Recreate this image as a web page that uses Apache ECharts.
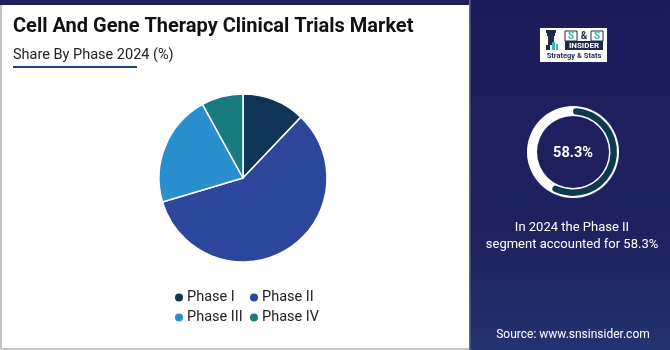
<!DOCTYPE html>
<html>
<head>
<meta charset="utf-8">
<script src="https://cdn.jsdelivr.net/npm/echarts@6/dist/echarts.min.js"></script>
<style>
  html, body { margin: 0; padding: 0; background: #ffffff; }
  #chart { width: 670px; height: 350px; }
</style>
</head>
<body>
<div id="chart"></div>
<script>
// Share of clinical trials by phase, 2024 (%)
const phases = ['Phase I', 'Phase II', 'Phase III', 'Phase IV'];
const shares = [12.1, 58.3, 21.6, 8.0];
const phaseColors = ['#0f3456', '#2b469b', '#2a8fcf', '#187b7f'];

// Highlighted segment in the side panel
const highlightYear = 2024;
const highlightIndex = 1;

const titleText = 'Cell And Gene Therapy Clinical Trials Market';
const subtitleText = 'Share By Phase 2024 (%)';
const sourceText = 'Source: www.snsinsider.com';

const chart = echarts.init(document.getElementById('chart'), null, { renderer: 'canvas' });

const hlValue = shares[highlightIndex];
const hlName = phases[highlightIndex];

const option = {
  animation: false,
  textStyle: { fontFamily: 'Roboto' },
  graphic: [
    // left card
    { type: 'rect', z: 0, shape: { x: 0, y: 0, width: 470, height: 350 }, style: { fill: '#ffffff' } },
    { type: 'rect', z: 1, shape: { x: 0, y: 5, width: 2, height: 345 }, style: { fill: '#c4c4c8' } },
    { type: 'rect', z: 1, shape: { x: 0, y: 348, width: 470, height: 2 }, style: { fill: '#c4c4c8' } },
    { type: 'rect', z: 1, shape: { x: 0, y: 0, width: 470, height: 5 }, style: { fill: '#1e1f5c' } },
    // right panel
    {
      type: 'rect', z: 0, shape: { x: 469, y: 0, width: 201, height: 350 },
      style: {
        fill: new echarts.graphic.LinearGradient(0, 0, 0, 1, [
          { offset: 0, color: '#1e1d5c' },
          { offset: 0.7, color: '#1f2260' },
          { offset: 1, color: '#243371' }
        ])
      }
    },
    { type: 'rect', z: 1, shape: { x: 469, y: 0, width: 1.5, height: 350 }, style: { fill: '#5c6a9a' } },
    // titles
    {
      type: 'text', z: 5, left: 13, top: 17,
      style: { text: titleText, fill: '#111111', font: 'bold 20px Roboto' }
    },
    {
      type: 'text', z: 5, left: 13, top: 48,
      style: { text: subtitleText, fill: '#222222', font: '14.5px Roboto' }
    },
    { type: 'rect', z: 5, shape: { x: 13, y: 66, width: 124, height: 2 }, style: { fill: '#1f3f78' } },
    // logo
    { type: 'rect', z: 5, shape: { x: 540, y: 28, width: 67, height: 34 }, style: { fill: '#ffffff' } },
    // rook icon
    { type: 'rect', z: 6, shape: { x: 546, y: 30, width: 10, height: 3 }, style: { fill: '#1d2a4a' } },
    { type: 'rect', z: 6, shape: { x: 547, y: 33, width: 8, height: 3 }, style: { fill: '#1d2a4a' } },
    { type: 'rect', z: 6, shape: { x: 548, y: 36, width: 6, height: 9 }, style: { fill: '#1d2a4a' } },
    { type: 'rect', z: 6, shape: { x: 546, y: 45, width: 4, height: 5 }, style: { fill: '#1d2a4a' } },
    { type: 'rect', z: 6, shape: { x: 552, y: 42, width: 3, height: 8 }, style: { fill: '#3fb6b0' } },
    { type: 'rect', z: 6, shape: { x: 556, y: 44, width: 2, height: 6 }, style: { fill: '#3fb6b0' } },
    // S & S boxes
    { type: 'rect', z: 6, shape: { x: 565, y: 31, width: 12, height: 10 }, style: { fill: '#ffffff', stroke: '#1d2a4a', lineWidth: 1 } },
    { type: 'rect', z: 6, shape: { x: 591, y: 31, width: 12, height: 10 }, style: { fill: '#ffffff', stroke: '#1d2a4a', lineWidth: 1 } },
    { type: 'text', z: 7, x: 571, y: 36, style: { text: 'S', fill: '#3fb6b0', font: 'bold 10px Roboto', align: 'center', verticalAlign: 'middle' } },
    { type: 'text', z: 7, x: 584, y: 36, style: { text: '&', fill: '#1d2a4a', font: 'bold 10px Roboto', align: 'center', verticalAlign: 'middle' } },
    { type: 'text', z: 7, x: 597, y: 36, style: { text: 'S', fill: '#3fb6b0', font: 'bold 10px Roboto', align: 'center', verticalAlign: 'middle' } },
    { type: 'rect', z: 6, shape: { x: 565, y: 41, width: 38, height: 9 }, style: { fill: '#1d2a4a' } },
    { type: 'text', z: 7, x: 584, y: 45.5, style: { text: 'INSIDER', fill: '#ffffff', font: 'bold 8px Roboto', align: 'center', verticalAlign: 'middle' } },
    { type: 'text', z: 7, x: 574, y: 56.5, style: { text: 'Strategy & Stats', fill: '#1d2a4a', font: 'bold 7.5px Roboto', align: 'center', verticalAlign: 'middle' } },
    // donut centre value
    {
      type: 'text', z: 10, x: 573, y: 153,
      style: { text: hlValue.toFixed(1) + '%', fill: '#ffffff', font: 'bold 14.5px Roboto', align: 'center', verticalAlign: 'middle' }
    },
    {
      type: 'text', z: 10, x: 572, y: 236,
      style: {
        text: 'In ' + highlightYear + ' the ' + hlName + '\nsegment accounted for ' + hlValue.toFixed(1) + '%',
        fill: '#ffffff', font: '13px Roboto', align: 'center', verticalAlign: 'middle', lineHeight: 17
      }
    },
    {
      type: 'text', z: 10, x: 573, y: 335,
      style: { text: sourceText, fill: '#ffffff', font: '12px Roboto', align: 'center', verticalAlign: 'middle' }
    }
  ],
  legend: [
    {
      data: [phases[0], phases[2]],
      orient: 'vertical', left: 168, top: 285, itemGap: 5,
      icon: 'circle', itemWidth: 10, itemHeight: 10,
      textStyle: { fontSize: 14.5, color: '#222222', fontFamily: 'Roboto', padding: [0, 0, 0, -2] }
    },
    {
      data: [phases[1], phases[3]],
      orient: 'vertical', left: 243, top: 285, itemGap: 5,
      icon: 'circle', itemWidth: 10, itemHeight: 10,
      textStyle: { fontSize: 14.5, color: '#222222', fontFamily: 'Roboto', padding: [0, 0, 0, -2] }
    }
  ],
  series: [
    {
      type: 'pie',
      center: [243, 178],
      radius: [0, 84],
      startAngle: 90,
      clockwise: true,
      label: { show: false },
      labelLine: { show: false },
      itemStyle: { borderColor: '#ffffff', borderWidth: 1.5 },
      emphasis: { disabled: true },
      data: phases.map((p, i) => ({ name: p, value: shares[i], itemStyle: { color: phaseColors[i] } }))
    },
    {
      type: 'pie',
      center: [573, 152],
      radius: [36, 46],
      silent: true,
      label: { show: false },
      labelLine: { show: false },
      emphasis: { disabled: true },
      data: [{ name: 'ring', value: 100, itemStyle: { color: '#ffffff' } }]
    },
    {
      type: 'pie',
      center: [573, 152],
      radius: [37.5, 44],
      startAngle: 90,
      clockwise: true,
      silent: true,
      z: 3,
      label: { show: false },
      labelLine: { show: false },
      emphasis: { disabled: true },
      itemStyle: { borderRadius: 4 },
      data: [
        { name: 'share', value: hlValue, itemStyle: { color: '#0d3a50' } },
        { name: 'rest', value: 100 - hlValue, itemStyle: { color: 'rgba(0,0,0,0)' } }
      ]
    }
  ]
};

chart.setOption(option);
</script>
</body>
</html>
